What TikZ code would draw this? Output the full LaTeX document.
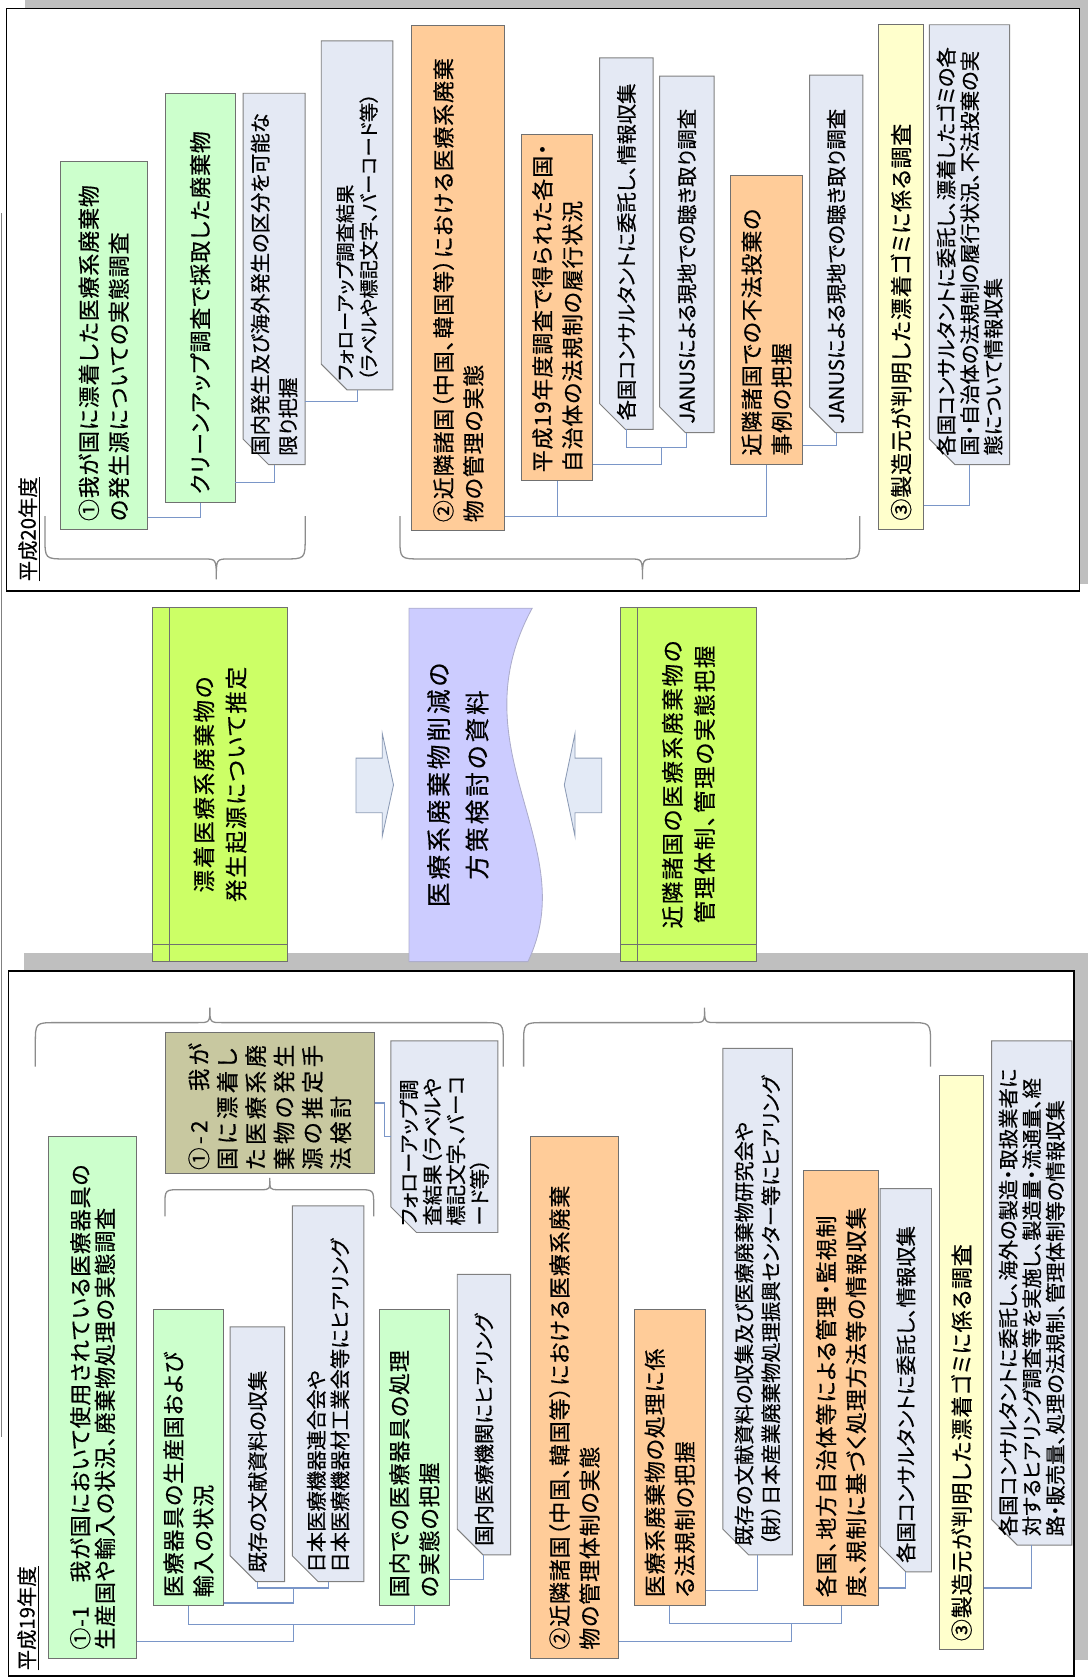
\documentclass[tikz,border=0pt]{standalone}
\usepackage{fontspec}
\setmainfont[RawFeature=+palt, FakeBold=0.5]{Noto Sans CJK JP}
\usetikzlibrary{calc}
\pgfdeclarelayer{bg}
\pgfdeclarelayer{back}
\pgfsetlayers{bg,back,main}

\definecolor{grnfill}{HTML}{CCFFCC}
\definecolor{orgfill}{HTML}{FFCC99}
\definecolor{ylwfill}{HTML}{FFFFCC}
\definecolor{cutfill}{HTML}{E4E9F4}
\definecolor{olvfill}{HTML}{C8C8A0}
\definecolor{limefill}{HTML}{CCFF66}
\definecolor{lavfill}{HTML}{CCCCFF}
\definecolor{boxline}{HTML}{707070}
\definecolor{connblue}{HTML}{7A96C8}
\definecolor{bracegray}{HTML}{8C8C8C}
\definecolor{shadowgray}{HTML}{BFBFBF}
\definecolor{arrowfill}{HTML}{E3EAF6}
\definecolor{arrowline}{HTML}{8C9BB5}

\newcommand\boxfont{\fontsize{20.5}{28}\selectfont\addfontfeatures{LetterSpace=4}}
\newcommand\cutfont{\fontsize{19}{22}\selectfont}
\newcommand\midfont{\fontsize{21}{30}\selectfont\addfontfeatures{LetterSpace=8}}
\newcommand\docfont{\fontsize{23}{36}\selectfont\addfontfeatures{LetterSpace=12}}
\newcommand\yearfont{\fontsize{19}{22}\selectfont}

\tikzset{
	box/.style={rotate=90, anchor=north west, draw=boxline, line width=0.9pt, inner xsep=8pt, inner ysep=0pt, align=left, font=\boxfont},
	grn/.style={box, fill=grnfill},
	org/.style={box, fill=orgfill},
	ylw/.style={box, fill=ylwfill},
	cut/.style={box, draw=none, font=\cutfont},
	mid/.style={box, fill=limefill, align=center, font=\midfont},
	conn/.style={draw=connblue, line width=1pt},
	brc/.style={draw=bracegray, line width=1.2pt},
	frm/.style={draw=black, line width=1.6pt, fill=white},
	shd/.style={fill=shadowgray},
	blk/.style={fill=arrowfill, draw=arrowline, line width=0.8pt},
	year/.style={rotate=90, anchor=west, inner sep=0pt, font=\yearfont},
	uline/.style={line width=1.2pt},
}

\begin{document}
\begin{tikzpicture}[x=1pt, y=-1pt]
	\useasboundingbox (0,0) rectangle (1016,1568);
	\begin{pgfonlayer}{bg}
		\fill[shd] (23,0) rectangle (1016,545);
		\draw[frm] (6,8) rectangle (1008,552);
		\fill[shd] (22,890) rectangle (1016,1550);
		\draw[frm] (8,907) rectangle (1003,1565);
		\draw[gray, line width=1.2pt] (1.5,199) -- (1.5,1342);
	\end{pgfonlayer}

	% H20
	\node[year] (y20) at (26,543) {平成20年度};
	\draw[uline] ([xshift=2pt]y20.south west) -- ([xshift=2pt]y20.south east);
	\node[grn, text width=328pt, minimum height=81pt] (t1) at (56,495) {①我が国に漂着した医療系廃棄物\\の発生源についての実態調査};
	\node[grn, text width=366pt, minimum height=65pt] (t2) at (154,470) {クリーンアップ調査で採取した廃棄物};
	\node[cut, text width=330pt, minimum height=57pt, font=\fontsize{19}{26}\selectfont] (t3) at (227,434) {国内発生及び海外発生の区分を可能な\\限り把握};
	\node[cut, text width=309pt, minimum height=66pt, font=\fontsize{18}{22}\selectfont] (t4) at (300,364) {フォローアップ調査結果\\（ラベルや標記文字、バーコード等）};
	\node[org, text width=456pt, minimum height=87pt] (t5) at (384,496) {②近隣諸国（中国、韓国等）における医療系廃棄\\物の管理の実態};
	\node[org, text width=307pt, minimum height=66pt] (t6) at (487,449.5) {平成19年度調査で得られた各国・\\自治体の法規制の履行状況};
	\node[cut, text width=330pt, minimum height=49pt] (t7) at (560,401) {各国コンサルタントに委託し、情報収集};
	\node[cut, text width=316pt, minimum height=50pt] (t8) at (616,404) {JANUSによる現地での聴き取り調査};
	\node[org, text width=254pt, minimum height=67pt] (t9) at (682,434) {近隣諸国での不法投棄の\\事例の把握};
	\node[cut, text width=317pt, minimum height=49pt] (t10) at (756,404) {JANUSによる現地での聴き取り調査};
	\node[ylw, text width=455pt, minimum height=42pt] (t11) at (820,494.6) {③製造元が判明した漂着ゴミに係る調査};
	\node[cut, text width=394pt, minimum height=74pt] (t12) at (868,434) {各国コンサルタントに委託し、漂着したゴミの各\\国・自治体の法規制の履行状況、不法投棄の実\\態について情報収集};

	\draw[conn] ([yshift=12pt]t1.south west) -| (t2.west);
	\draw[conn] ([yshift=19pt]t2.south west) -| (t3.west);
	\draw[conn] ([yshift=59pt]t3.south west) -| (t4.west);
	\coordinate (t5o) at ([yshift=13.5pt]t5.south west);
	\draw[conn] (t5o) -| (t9.west);
	\draw[conn] (t6.west) -- (t6.west |- t5o);
	\coordinate (t6f) at (618,418);
	\draw[conn] ([yshift=15.5pt]t6.south west) -| (t6f);
	\draw[conn] (t7.west) |- (t6f) -| (t8.west);
	\draw[conn] ([yshift=18pt]t9.south west) -| (t10.west);
	\draw[conn] ([yshift=22.6pt]t11.south west) -| (t12.west);

	\draw[brc] (42,482) -- (42,502) .. controls (42,522) .. (62,522) -- (190,522) .. controls (202,522) .. (202,541) .. controls (202,522) .. (214,522) -- (265,522) .. controls (285,522) .. (285,502) -- (285,482);
	\draw[brc] (373.5,482) -- (373.5,502) .. controls (373.5,522) .. (393.5,522) -- (588,522) .. controls (600,522) .. (600,541) .. controls (600,522) .. (612,522) -- (783,522) .. controls (803,522) .. (803,502) -- (803,482);

	% middle
	\node[mid, minimum width=330pt, minimum height=126pt] (m1) at (142,898) {漂着医療系廃棄物の\\発生起源について推定};
	\draw[boxline, line width=0.9pt] ($(m1.north east)+(16,0)$) -- ($(m1.north west)+(16,0)$);
	\draw[boxline, line width=0.9pt] ($(m1.north west)+(0,-16)$) -- ($(m1.south west)+(0,-16)$);
	\node[mid, minimum width=330pt, minimum height=127pt] (m3) at (579,898) {近隣諸国の医療系廃棄物の\\管理体制、管理の実態把握};
	\draw[boxline, line width=0.9pt] ($(m3.north east)+(16,0)$) -- ($(m3.north west)+(16,0)$);
	\draw[boxline, line width=0.9pt] ($(m3.north west)+(0,-16)$) -- ($(m3.south west)+(0,-16)$);
	\draw[fill=lavfill, draw=lavfill!60!gray, line width=0.8pt] (382,568) -- (497,568) .. controls (425,700) and (545,790) .. (493,898) -- (382,898) -- cycle;
	\node[rotate=90, align=center, font=\docfont] (m2) at (427.5,733) {医療系廃棄物削減の\\方策検討の資料};
	\draw[blk] (332.5,708) -- (357,708) -- (357,685) -- (367.5,733) -- (357,781) -- (357,759) -- (332.5,759) -- cycle;
	\draw[blk] (562,708) -- (537,708) -- (537,685) -- (527,733) -- (537,781) -- (537,759) -- (562,759) -- cycle;

	% H19
	\node[year] (y19) at (25,1560) {平成19年度};
	\draw[uline] ([xshift=2pt]y19.south west) -- ([xshift=2pt]y19.south east);
	\node[grn, text width=471pt, minimum height=82pt, font=\fontsize{20.5}{23}\selectfont\addfontfeatures{LetterSpace=4}] (b1) at (45,1549) {①-1　我が国において使用されている医療器具の\\生産国や輸入の状況、廃棄物処理の実態調査};
	\node[grn, text width=261pt, minimum height=65pt] (b2) at (143,1500) {医療器具の生産国および\\輸入の状況};
	\node[cut, text width=221pt, minimum height=50pt] (b3) at (215,1477) {既存の文献資料の収集};
	\node[cut, text width=334pt, minimum height=66pt] (b4) at (273,1477) {日本医療機器連合会や\\日本医療機器材工業会等にヒアリング};
	\node[grn, text width=261pt, minimum height=65pt] (b5) at (354,1500) {国内での医療器具の処理\\の実態の把握};
	\node[cut, text width=245pt, minimum height=49pt] (b6) at (427,1452) {国内医療機関にヒアリング};
	\node[org, text width=471pt, minimum height=82pt] (b7) at (495,1549) {②近隣諸国（中国、韓国等）における医療系廃棄\\物の管理体制の実態};
	\node[org, text width=261pt, minimum height=66pt] (b8) at (592,1500) {医療系廃棄物の処理に係\\る法規制の把握};
	\node[cut, text width=456pt, minimum height=64pt, font=\fontsize{19}{25}\selectfont] (b9) at (675,1452) {既存の文献資料の収集及び医療廃棄物研究会や\\（財）日本産業廃棄物処理振興センター等にヒアリング};
	\node[org, text width=390pt, minimum height=70pt] (b10) at (750,1500) {各国、地方自治体等による管理・監視制\\度、規制に基づく処理方法等の情報収集};
	\node[cut, text width=341pt, minimum height=47pt] (b11) at (822,1468) {各国コンサルタントに委託し、情報収集};
	\node[ylw, text width=520pt, minimum height=41pt] (b12) at (877,1541) {③製造元が判明した漂着ゴミに係る調査};
	\node[cut, text width=454pt, minimum height=74pt] (b13) at (926,1443) {各国コンサルタントに委託し、海外の製造・取扱業者に\\対するヒアリング調査等を実施し、製造量・流通量、経\\路・販売量、処理の法規制、管理体制等の情報収集};
	\node[box, fill=olvfill, inner xsep=3pt, text width=125pt, minimum height=195pt, font=\fontsize{21}{26.5}\selectfont\addfontfeatures{LetterSpace=15}] (b14) at (154,1096) {①-2　我が\\国に漂着し\\た医療系廃\\棄物の発生\\源の推定手\\法検討};
	\node[cut, inner xsep=6pt, text width=166pt, minimum height=99pt] (b15) at (365,1151) {フォローアップ調\\査結果（ラベルや\\標記文字、バーコ\\ード等）};

	\coordinate (b1j) at (274,1517);
	\draw[conn] ([yshift=16pt]b1.south west) -| (b1j);
	\draw[conn] (b2.west) |- (b1j) -| (b5.west);
	\coordinate (b2j) at (274,1483);
	\draw[conn] ([yshift=3pt]b2.south west) -| (b2j);
	\draw[conn] (b3.west) |- (b2j) -| (b4.west);
	\draw[conn] ([yshift=25pt]b5.south west) -| (b6.west);
	\coordinate (b7j) at (739.5,1516);
	\draw[conn] ([yshift=16pt]b7.south west) -| (b7j);
	\draw[conn] (b8.west) |- (b7j) -| (b10.west);
	\draw[conn] ([yshift=15pt]b8.south west) -| (b9.west);
	\draw[conn] ([yshift=17pt]b10.south west) -| (b11.west);
	\draw[conn] ([yshift=58pt]b12.south west) -| (b13.west);
	\draw[conn] (b14.south) -- ++(9,0) |- (b15.north);

	\draw[brc] (33,996) -- (33,975) .. controls (33,955) .. (53,955) -- (184,955) .. controls (196,955) .. (196,941) .. controls (196,955) .. (208,955) -- (450,955) .. controls (470,955) .. (470,975) -- (470,996);
	\draw[brc] (489,996) -- (489,975) .. controls (489,955) .. (509,955) -- (646,955) .. controls (658,955) .. (658,941) .. controls (658,955) .. (670,955) -- (849,955) .. controls (869,955) .. (869,975) -- (869,996);
	\draw[brc] (154,1136) -- (154,1126) .. controls (154,1111) .. (169,1111) -- (244,1111) .. controls (252,1111) .. (252,1100) .. controls (252,1111) .. (260,1111) -- (334,1111) .. controls (349,1111) .. (349,1126) -- (349,1136);

	\begin{pgfonlayer}{back}
		\foreach \n in {t3,t4,t7,t8,t10,t12,b3,b4,b6,b9,b11,b13,b15}
			\filldraw[fill=cutfill, draw=gray, line width=0.9pt] ($(\n.north west)+(0,-24)$) -- (\n.north east) -- (\n.south east) -- (\n.south west) -- ($(\n.north west)+(24,0)$) -- cycle;
	\end{pgfonlayer}
\end{tikzpicture}
\end{document}
